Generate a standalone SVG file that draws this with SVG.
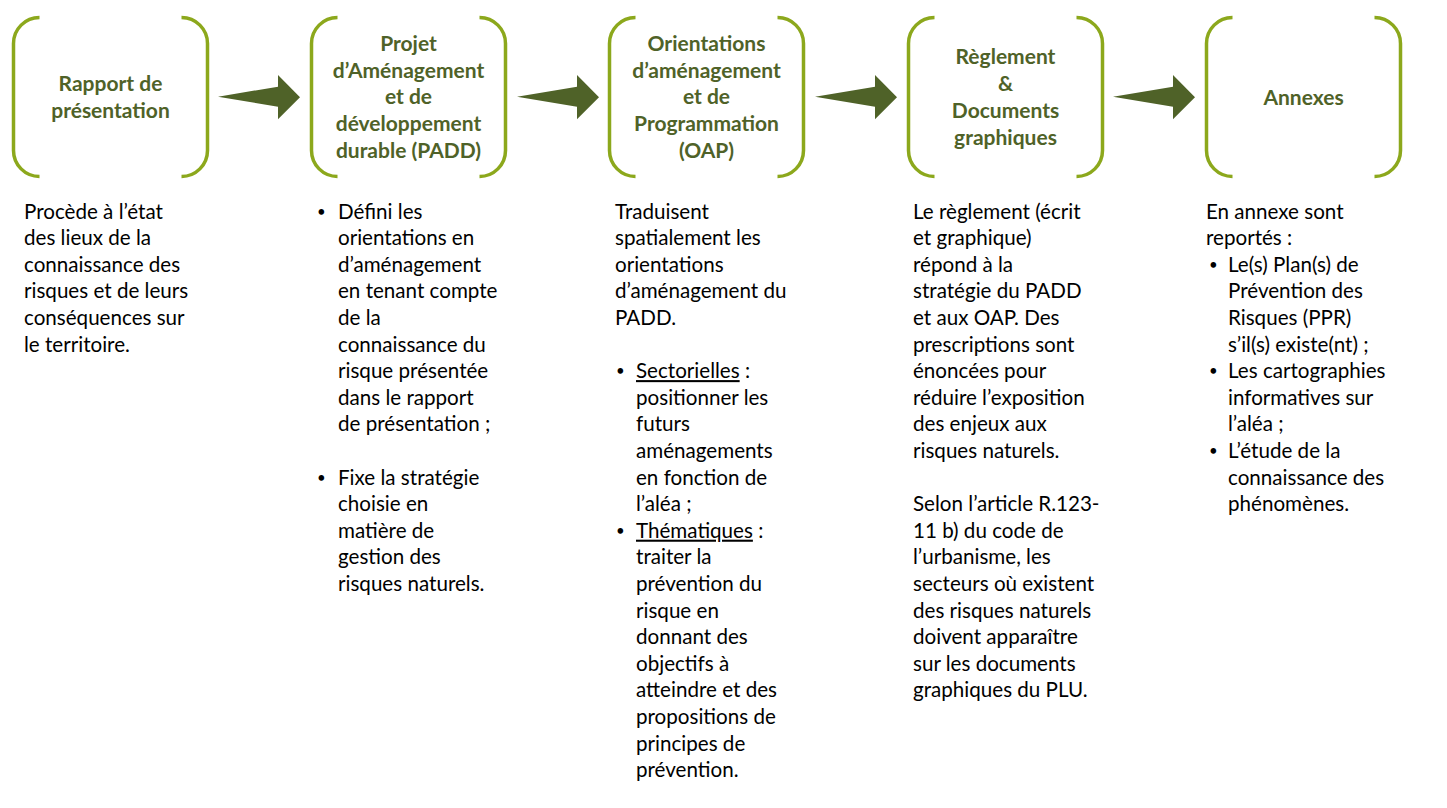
<svg xmlns="http://www.w3.org/2000/svg" width="1447" height="808" viewBox="0 0 1447 808">
<defs>
<style>
.br{fill:none;stroke:#8CA81C;stroke-width:3.5}
.ar{fill:#4F6228}
.t{font-family:Lato,"Liberation Sans",sans-serif;font-weight:bold;font-size:21px;fill:#4F6228;text-anchor:middle}
.b{font-family:Lato,"Liberation Sans",sans-serif;font-size:20.6px;fill:#000}
.d{font-size:15px}
.u{text-decoration:underline}
</style>
<path id="brk" d="M39.5,17.5 A26,26 0 0 0 13.5,43.5 V150.5 A26,26 0 0 0 39.5,176.5 M181.5,17.5 A26,26 0 0 1 207.5,43.5 V150.5 A26,26 0 0 1 181.5,176.5"/>
<path id="arw" d="M0,96.7 L60,86.7 L60,75 L82,97.3 L60,119.3 L60,106.7 Z"/>
</defs>
<rect width="1447" height="808" fill="#fff"/>
<g id="connectors">
<use href="#arw" class="ar" x="218"/>
<use href="#arw" class="ar" x="517"/>
<use href="#arw" class="ar" x="815"/>
<use href="#arw" class="ar" x="1113"/>
</g>
<g id="node1">
<use href="#brk" class="br"/>
<text class="t"><tspan x="110.5" y="90.7">Rapport de</tspan><tspan x="110.5" y="117.5">présentation</tspan></text>
<text class="b"><tspan x="24" y="218.5">Procède à l’état</tspan><tspan x="24" y="245.1">des lieux de la</tspan><tspan x="24" y="271.7">connaissance des</tspan><tspan x="24" y="298.3">risques et de leurs</tspan><tspan x="24" y="324.9">conséquences sur</tspan><tspan x="24" y="351.5">le territoire.</tspan></text>
</g>
<g id="node2">
<use href="#brk" class="br" x="298"/>
<text class="t"><tspan x="408.5" y="50.7">Projet</tspan><tspan x="408.5" y="77.5">d’Aménagement</tspan><tspan x="408.5" y="104.2">et de</tspan><tspan x="408.5" y="131">développement</tspan><tspan x="408.5" y="157.7">durable (PADD)</tspan></text>
<text class="b"><tspan class="d" x="317" y="216.5">•</tspan><tspan x="338" y="218.5">Défini les</tspan><tspan x="338" y="245.1">orientations en</tspan><tspan x="338" y="271.7">d’aménagement</tspan><tspan x="338" y="298.3">en tenant compte</tspan><tspan x="338" y="324.9">de la</tspan><tspan x="338" y="351.5">connaissance du</tspan><tspan x="338" y="378.1">risque présentée</tspan><tspan x="338" y="404.7">dans le rapport</tspan><tspan x="338" y="431.3">de présentation ;</tspan><tspan class="d" x="317" y="482.5">•</tspan><tspan x="338" y="484.5">Fixe la stratégie</tspan><tspan x="338" y="511.1">choisie en</tspan><tspan x="338" y="537.7">matière de</tspan><tspan x="338" y="564.3">gestion des</tspan><tspan x="338" y="590.9">risques naturels.</tspan></text>
</g>
<g id="node3">
<use href="#brk" class="br" x="596"/>
<text class="t"><tspan x="706.5" y="50.7">Orientations</tspan><tspan x="706.5" y="77.5">d’aménagement</tspan><tspan x="706.5" y="104.2">et de</tspan><tspan x="706.5" y="131">Programmation</tspan><tspan x="706.5" y="157.7">(OAP)</tspan></text>
<text class="b"><tspan x="615" y="218.5">Traduisent</tspan><tspan x="615" y="245.1">spatialement les</tspan><tspan x="615" y="271.7">orientations</tspan><tspan x="615" y="298.3">d’aménagement du</tspan><tspan x="615" y="324.9">PADD.</tspan><tspan class="d" x="616" y="376.1">•</tspan><tspan x="636" y="378.1" class="u">Sectorielles</tspan><tspan> :</tspan><tspan x="636" y="404.7">positionner les</tspan><tspan x="636" y="431.3">futurs</tspan><tspan x="636" y="457.9">aménagements</tspan><tspan x="636" y="484.5">en fonction de</tspan><tspan x="636" y="511.1">l’aléa ;</tspan><tspan class="d" x="616" y="535.7">•</tspan><tspan x="636" y="537.7" class="u">Thématiques</tspan><tspan> :</tspan><tspan x="636" y="564.3">traiter la</tspan><tspan x="636" y="590.9">prévention du</tspan><tspan x="636" y="617.5">risque en</tspan><tspan x="636" y="644.1">donnant des</tspan><tspan x="636" y="670.7">objectifs à</tspan><tspan x="636" y="697.3">atteindre et des</tspan><tspan x="636" y="723.9">propositions de</tspan><tspan x="636" y="750.5">principes de</tspan><tspan x="636" y="777.1">prévention.</tspan></text>
</g>
<g id="node4">
<use href="#brk" class="br" x="895"/>
<text class="t"><tspan x="1005.5" y="64.2">Règlement</tspan><tspan x="1005.5" y="91">&amp;</tspan><tspan x="1005.5" y="117.7">Documents</tspan><tspan x="1005.5" y="144.5">graphiques</tspan></text>
<text class="b"><tspan x="913" y="218.5">Le règlement (écrit</tspan><tspan x="913" y="245.1">et graphique)</tspan><tspan x="913" y="271.7">répond à la</tspan><tspan x="913" y="298.3">stratégie du PADD</tspan><tspan x="913" y="324.9">et aux OAP. Des</tspan><tspan x="913" y="351.5">prescriptions sont</tspan><tspan x="913" y="378.1">énoncées pour</tspan><tspan x="913" y="404.7">réduire l’exposition</tspan><tspan x="913" y="431.3">des enjeux aux</tspan><tspan x="913" y="457.9">risques naturels.</tspan><tspan x="913" y="511.1">Selon l’article R.123-</tspan><tspan x="913" y="537.7">11 b) du code de</tspan><tspan x="913" y="564.3">l’urbanisme, les</tspan><tspan x="913" y="590.9">secteurs où existent</tspan><tspan x="913" y="617.5">des risques naturels</tspan><tspan x="913" y="644.1">doivent apparaître</tspan><tspan x="913" y="670.7">sur les documents</tspan><tspan x="913" y="697.3">graphiques du PLU.</tspan></text>
</g>
<g id="node5">
<use href="#brk" class="br" x="1193"/>
<text class="t"><tspan x="1303.5" y="104.5">Annexes</tspan></text>
<text class="b"><tspan x="1206" y="218.5">En annexe sont</tspan><tspan x="1206" y="245.1">reportés :</tspan><tspan class="d" x="1209" y="269.7">•</tspan><tspan x="1228" y="271.7">Le(s) Plan(s) de</tspan><tspan x="1228" y="298.3">Prévention des</tspan><tspan x="1228" y="324.9">Risques (PPR)</tspan><tspan x="1228" y="351.5">s’il(s) existe(nt) ;</tspan><tspan class="d" x="1209" y="376.1">•</tspan><tspan x="1228" y="378.1">Les cartographies</tspan><tspan x="1228" y="404.7">informatives sur</tspan><tspan x="1228" y="431.3">l’aléa ;</tspan><tspan class="d" x="1209" y="455.9">•</tspan><tspan x="1228" y="457.9">L’étude de la</tspan><tspan x="1228" y="484.5">connaissance des</tspan><tspan x="1228" y="511.1">phénomènes.</tspan></text>
</g>
</svg>
